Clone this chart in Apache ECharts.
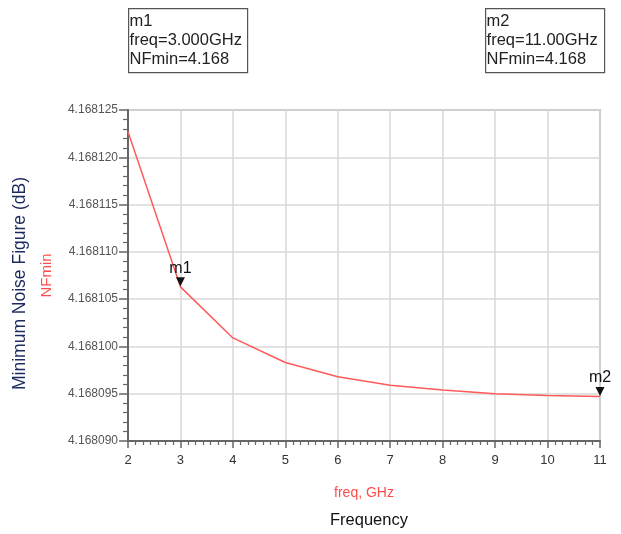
<!DOCTYPE html>
<html>
<head>
<meta charset="utf-8">
<script src="https://cdn.jsdelivr.net/npm/echarts@6/dist/echarts.min.js"></script>
<style>html,body{margin:0;padding:0;background:#fff}#c{width:621px;height:534px}</style>
</head>
<body>
<div id="c"></div>
<script>
const freqGHz = [2, 3, 4, 5, 6, 7, 8, 9, 10, 11];
const nfMin = [4.1681227, 4.1681063, 4.1681009, 4.1680983, 4.1680968, 4.1680959, 4.1680954, 4.1680950, 4.1680948, 4.1680947];
const yMin = 4.168090, yMax = 4.168125, yStep = 0.000005;
const markers = [
  {name: 'm1', freq: 3, value: 4.1681063},
  {name: 'm2', freq: 11, value: 4.1680947}
];
const markerTexts = [
  ['m1', 'freq=3.000GHz', 'NFmin=4.168'],
  ['m2', 'freq=11.00GHz', 'NFmin=4.168']
];

const chart = echarts.init(document.getElementById('c'));
const font = 'Liberation Sans, Arial, sans-serif';
const gridColor = '#d8d8d8';
const axisColor = '#666';

function box(x, lines) {
  return {
    type: 'group', left: x, top: 8,
    children: [
      {type: 'rect', shape: {x: 0, y: 0, width: 119, height: 64},
       style: {fill: '#fff', stroke: '#555', lineWidth: 1.2}},
      {type: 'text', x: 1, y: 3,
       style: {text: lines.join('\n'), font: '16.5px ' + font, fill: '#222', lineHeight: 19}}
    ]
  };
}

chart.setOption({
  animation: false,
  grid: {left: 128, right: 21, top: 110, bottom: 93, show: true, borderColor: '#999', borderWidth: 1.5},
  xAxis: {
    type: 'value', min: 2, max: 11, interval: 1,
    axisLine: {show: true, onZero: false, lineStyle: {color: axisColor, width: 2}},
    axisTick: {show: true, length: 7, lineStyle: {color: axisColor, width: 1.5}},
    minorTick: {show: true, splitNumber: 7, length: 4, lineStyle: {color: axisColor, width: 1.2}},
    splitLine: {show: true, lineStyle: {color: gridColor, width: 1.5}},
    axisLabel: {color: '#333', fontFamily: font, fontSize: 13, margin: 13},
    name: 'freq, GHz', nameLocation: 'middle', nameGap: 45,
    nameTextStyle: {color: '#ff4d4d', fontFamily: font, fontSize: 14}
  },
  yAxis: {
    type: 'value', min: yMin, max: yMax, interval: yStep,
    axisLine: {show: true, lineStyle: {color: axisColor, width: 2}},
    axisTick: {show: true, length: 9, lineStyle: {color: axisColor, width: 1.5}},
    minorTick: {show: true, splitNumber: 5, length: 5, lineStyle: {color: axisColor, width: 1.2}},
    splitLine: {show: true, lineStyle: {color: gridColor, width: 1.5}},
    axisLabel: {color: '#555', fontFamily: font, fontSize: 12, margin: 10,
      formatter: v => v.toFixed(6)},
    name: 'NFmin', nameLocation: 'middle', nameGap: 74, nameRotate: 90,
    nameTextStyle: {color: '#ff4d4d', fontFamily: font, fontSize: 15}
  },
  graphic: [
    box(128, markerTexts[0]),
    box(485, markerTexts[1]),
    {type: 'text', x: 11, y: 390, rotation: Math.PI / 2,
     style: {text: 'Minimum Noise Figure (dB)', font: '17.5px ' + font, fill: '#1b2a5c'}},
    {type: 'text', x: 330, y: 512,
     style: {text: 'Frequency', font: '16.5px ' + font, fill: '#111'}}
  ],
  series: [{
    type: 'line',
    data: freqGHz.map((f, i) => [f, nfMin[i]]),
    showSymbol: false,
    lineStyle: {color: '#ff5a5a', width: 1.5},
    markPoint: {
      symbol: 'triangle', symbolSize: [9, 9], symbolRotate: 180, symbolOffset: [0, -5],
      itemStyle: {color: '#111'},
      label: {show: true, position: 'top', distance: 1, color: '#111', fontFamily: font, fontSize: 16,
        formatter: p => p.name},
      data: markers.map(m => ({name: m.name, coord: [m.freq, m.value]}))
    }
  }]
});
</script>
</body>
</html>
